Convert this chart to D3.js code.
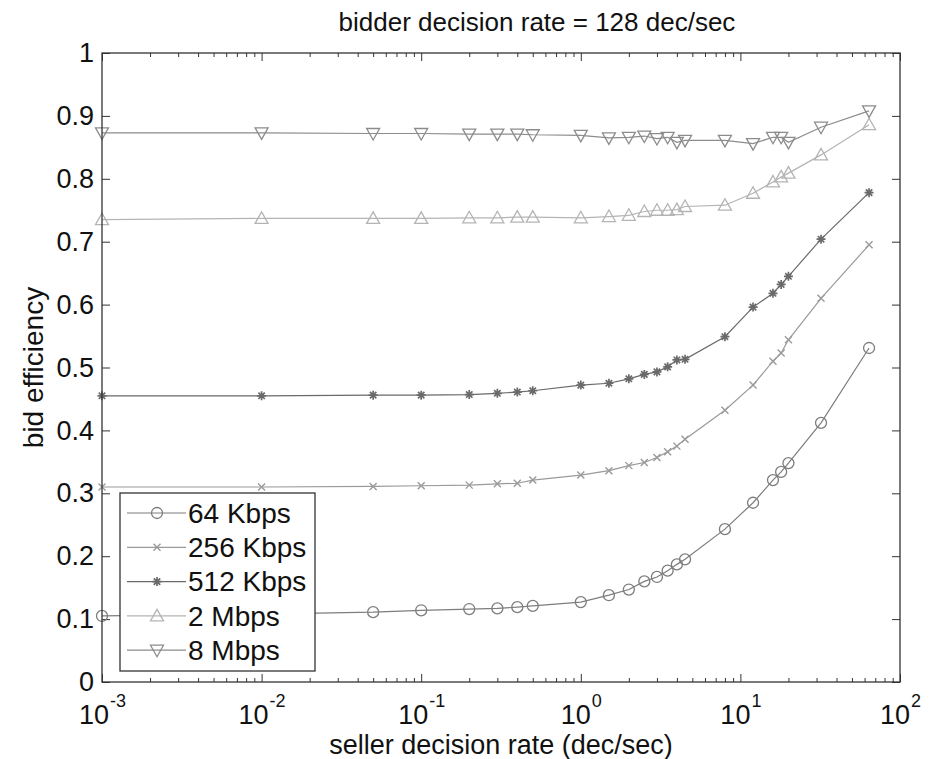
<!DOCTYPE html>
<html>
<head>
  <script src="https://d3js.org/d3.v7.min.js"></script>
  <style>
    body { margin: 0; background: #fff; }
    svg { font-family: "Liberation Sans", Arial, sans-serif; }
    .tick line { stroke: #333; }
    .domain { stroke: none; }
  </style>
</head>
<body>
<script>
  // seller decision rate (dec/sec)
  var rates = [0.001, 0.01, 0.05, 0.1, 0.2, 0.3, 0.4, 0.5, 1, 1.5, 2, 2.5, 3, 3.5, 4, 4.5, 8, 12, 16, 18, 20, 32, 64];

  // bid efficiency per bandwidth
  var kbps64  = [0.105, 0.108, 0.111, 0.114, 0.116, 0.117, 0.119, 0.121, 0.127, 0.138, 0.147, 0.160, 0.167, 0.177, 0.187, 0.195, 0.243, 0.285, 0.321, 0.334, 0.348, 0.412, 0.531];
  var kbps256 = [0.310, 0.310, 0.311, 0.312, 0.313, 0.315, 0.316, 0.321, 0.329, 0.336, 0.344, 0.349, 0.357, 0.366, 0.375, 0.386, 0.432, 0.472, 0.510, 0.523, 0.544, 0.610, 0.695];
  var kbps512 = [0.455, 0.455, 0.456, 0.456, 0.457, 0.459, 0.461, 0.463, 0.472, 0.475, 0.482, 0.489, 0.493, 0.501, 0.512, 0.513, 0.549, 0.596, 0.618, 0.632, 0.645, 0.704, 0.778];
  var mbps2   = [0.735, 0.737, 0.737, 0.737, 0.738, 0.738, 0.739, 0.739, 0.738, 0.740, 0.742, 0.748, 0.750, 0.750, 0.751, 0.756, 0.758, 0.777, 0.795, 0.803, 0.809, 0.838, 0.886];
  var mbps8   = [0.873, 0.873, 0.872, 0.872, 0.871, 0.871, 0.871, 0.870, 0.869, 0.865, 0.866, 0.868, 0.864, 0.866, 0.858, 0.861, 0.861, 0.856, 0.866, 0.866, 0.858, 0.882, 0.908];

  var seriesNames = ["64 Kbps", "256 Kbps", "512 Kbps", "2 Mbps", "8 Mbps"];
  var xMajor = [1e-3, 1e-2, 1e-1, 1e0, 1e1, 1e2];
  var xExp = ["-3", "-2", "-1", "0", "1", "2"];
  var yTicks = [0, 0.1, 0.2, 0.3, 0.4, 0.5, 0.6, 0.7, 0.8, 0.9, 1];

  var series = [
    { name: seriesNames[0], values: kbps64,  marker: "circle", color: "#7d7d7d" },
    { name: seriesNames[1], values: kbps256, marker: "x",      color: "#9a9a9a" },
    { name: seriesNames[2], values: kbps512, marker: "star",   color: "#6a6a6a" },
    { name: seriesNames[3], values: mbps2,   marker: "up",     color: "#b4b4b4" },
    { name: seriesNames[4], values: mbps8,   marker: "down",   color: "#8c8c8c" }
  ];

  var W = 933, H = 759;
  var margin = { top: 53, right: 33, bottom: 77, left: 102 };
  var width = W - margin.left - margin.right;
  var height = H - margin.top - margin.bottom;

  var svg = d3.select("body").append("svg")
    .attr("width", W)
    .attr("height", H);

  var g = svg.append("g")
    .attr("transform", "translate(" + margin.left + "," + margin.top + ")");

  var x = d3.scaleLog().domain([1e-3, 1e2]).range([0, width]);
  var y = d3.scaleLinear().domain([0, 1]).range([height, 0]);

  // minor log ticks
  var xMinor = [];
  for (var k = -3; k < 2; k++) {
    for (var m = 2; m <= 9; m++) xMinor.push(m * Math.pow(10, k));
  }

  // bottom & top axes (ticks point inward like matlab)
  g.append("g").attr("transform", "translate(0," + height + ")")
    .call(d3.axisBottom(x).tickValues(xMinor).tickSize(-4).tickSizeOuter(0).tickFormat(""));
  g.append("g")
    .call(d3.axisTop(x).tickValues(xMinor).tickSize(-4).tickSizeOuter(0).tickFormat(""));
  var xb = g.append("g").attr("transform", "translate(0," + height + ")")
    .call(d3.axisBottom(x).tickValues(xMajor).tickSize(-8).tickSizeOuter(0).tickFormat(""));
  g.append("g")
    .call(d3.axisTop(x).tickValues(xMajor).tickSize(-8).tickSizeOuter(0).tickFormat(""));

  // 10^n labels
  xb.selectAll(".tick").append("text")
    .attr("y", 42)
    .attr("fill", "#111")
    .attr("text-anchor", "middle")
    .style("font-size", "27px")
    .each(function(d, i) {
      var t = d3.select(this);
      t.append("tspan").text("10");
      t.append("tspan").attr("dy", -17).attr("dx", 1).style("font-size", "18px").text(xExp[i]);
    });

  // left & right axes
  g.append("g")
    .call(d3.axisLeft(y).tickValues(yTicks).tickSize(-8).tickSizeOuter(0).tickPadding(8)
      .tickFormat(function(d) { return d === 0 ? "0" : d === 1 ? "1" : d.toFixed(1); }))
    .selectAll("text")
    .attr("fill", "#111")
    .style("font-size", "27px");
  g.append("g").attr("transform", "translate(" + width + ",0)")
    .call(d3.axisRight(y).tickValues(yTicks).tickSize(-8).tickSizeOuter(0).tickFormat(""));

  // series lines
  var line = d3.line()
    .x(function(d) { return x(d[0]); })
    .y(function(d) { return y(d[1]); });

  function drawMarker(sel, type, color) {
    if (type === "circle") {
      sel.append("circle").attr("r", 5.5).attr("fill", "none").attr("stroke", color).attr("stroke-width", 1.3);
    } else if (type === "x") {
      sel.append("path").attr("d", "M-3.5,-3.5L3.5,3.5M-3.5,3.5L3.5,-3.5")
        .attr("stroke", color).attr("stroke-width", 1.4);
    } else if (type === "star") {
      sel.append("path").attr("d", "M-4.5,0L4.5,0M0,-4.5L0,4.5M-3.2,-3.2L3.2,3.2M-3.2,3.2L3.2,-3.2")
        .attr("stroke", color).attr("stroke-width", 1.7);
    } else if (type === "up") {
      sel.append("path").attr("d", "M0,-6.5L6.5,5L-6.5,5Z")
        .attr("fill", "none").attr("stroke", color).attr("stroke-width", 1.3);
    } else if (type === "down") {
      sel.append("path").attr("d", "M0,6.5L6.5,-5L-6.5,-5Z")
        .attr("fill", "none").attr("stroke", color).attr("stroke-width", 1.3);
    }
  }

  series.forEach(function(s) {
    var pts = rates.map(function(r, i) { return [r, s.values[i]]; });
    g.append("path")
      .datum(pts)
      .attr("fill", "none")
      .attr("stroke", s.color)
      .attr("stroke-width", 1.2)
      .attr("d", line);
    g.selectAll(null)
      .data(pts)
      .enter().append("g")
      .attr("transform", function(d) { return "translate(" + x(d[0]) + "," + y(d[1]) + ")"; })
      .each(function() { drawMarker(d3.select(this), s.marker, s.color); });
  });

  // plot frame
  g.append("rect")
    .attr("width", width)
    .attr("height", height)
    .attr("fill", "none")
    .attr("stroke", "#333")
    .attr("stroke-width", 1.3);

  // legend
  var lg = svg.append("g").attr("transform", "translate(120,493)");
  lg.append("rect")
    .attr("width", 195)
    .attr("height", 178)
    .attr("fill", "#fff")
    .attr("stroke", "#333")
    .attr("stroke-width", 1.3);
  var rows = lg.selectAll(".row")
    .data(series)
    .enter().append("g")
    .attr("class", "row")
    .attr("transform", function(d, i) { return "translate(0," + (20 + i * 34.3) + ")"; });
  rows.append("line")
    .attr("x1", 7).attr("x2", 66)
    .attr("stroke", function(d) { return d.color; })
    .attr("stroke-width", 1.2);
  rows.append("g")
    .attr("transform", "translate(37,0)")
    .each(function(d) { drawMarker(d3.select(this), d.marker, d.color); });
  rows.append("text")
    .attr("x", 68)
    .attr("dy", "0.35em")
    .attr("fill", "#111")
    .style("font-size", "28px")
    .text(function(d) { return d.name; });

  // title and axis labels
  svg.append("text")
    .attr("x", 537)
    .attr("y", 31)
    .attr("text-anchor", "middle")
    .attr("fill", "#111")
    .style("font-size", "26px")
    .text("bidder decision rate = 128 dec/sec");

  svg.append("text")
    .attr("x", margin.left + width / 2)
    .attr("y", 754)
    .attr("text-anchor", "middle")
    .attr("fill", "#111")
    .style("font-size", "27px")
    .text("seller decision rate (dec/sec)");

  svg.append("text")
    .attr("transform", "translate(43," + (margin.top + height / 2) + ") rotate(-90)")
    .attr("text-anchor", "middle")
    .attr("fill", "#111")
    .style("font-size", "28px")
    .text("bid efficiency");
</script>
</body>
</html>
